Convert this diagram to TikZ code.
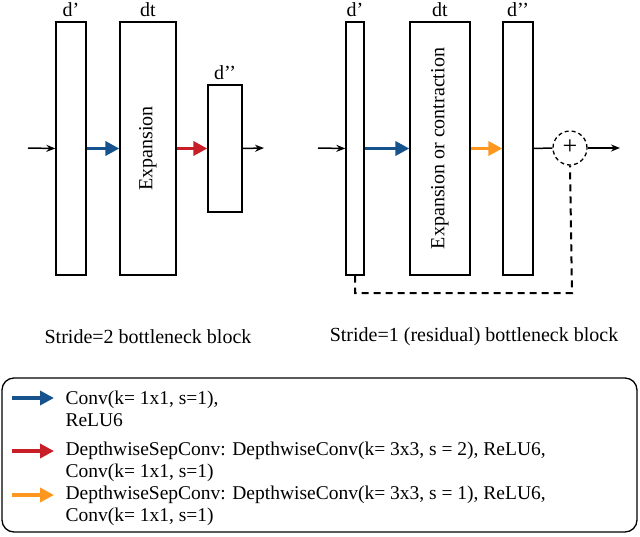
\documentclass[tikz,border=0pt]{standalone}
\usepackage{fontspec}
\setmainfont{Liberation Serif}
\usetikzlibrary{arrows.meta}
\definecolor{cblue}{RGB}{22,82,140}
\definecolor{cred}{RGB}{200,30,40}
\definecolor{corange}{RGB}{255,150,30}
\begin{document}
\begin{tikzpicture}[x=1pt,y=-1pt,
  box/.style={draw,line width=1.3pt,inner sep=0pt},
  lbl/.style={font=\fontsize{20}{22}\selectfont},
  ar/.style={-{Stealth[length=9pt,width=7pt]},line width=1.5pt},
  car/.style={-{Triangle[length=14pt,width=14pt]},line width=3.5pt},
  txt/.style={font=\fontsize{19.5}{22}\selectfont,align=left,anchor=west}]
\useasboundingbox (0,0) rectangle (640,536);
% left
\node[box,minimum width=30pt,minimum height=253pt] (a1) at (71,148.5) {};
\node[box,minimum width=56pt,minimum height=253pt] (a2) at (148,148.5) {};
\node[rotate=90,lbl] at (a2) {Expansion};
\node[box,minimum width=34pt,minimum height=127pt] (a3) at (225,148.5) {};
\node[lbl] at (71,10) {d’};
\node[lbl] at (148,10) {dt};
\node[lbl] at (225,73) {d’’};
\coordinate (ain) at (28,148); \coordinate (aout) at (264,148);
\draw[ar] (ain) -- (a1.west);
\draw[car,cblue] (a1.east) -- (a2.west);
\draw[car,cred] (a2.east) -- (a3.west);
\draw[ar] (a3.east) -- (aout);
\node[lbl] at (148,337) {Stride=2 bottleneck block};
% right
\node[box,minimum width=18pt,minimum height=253pt] (b1) at (355,148.5) {};
\node[box,minimum width=60pt,minimum height=253pt] (b2) at (440,148.5) {};
\node[rotate=90,lbl] at (b2) {Expansion or contraction};
\node[box,minimum width=30pt,minimum height=253pt] (b3) at (518,148.5) {};
\node[lbl] at (355,10) {d’};
\node[lbl] at (440,10) {dt};
\node[lbl] at (518,10) {d’’};
\node[draw,circle,dash pattern=on 4pt off 3pt,line width=1.3pt,minimum size=34pt,inner sep=0pt] (p) at (570,148) {};
\node[font=\fontsize{26}{26}\selectfont] at (570,147) {+};
\coordinate (bin) at (318,148); \coordinate (bout) at (620,148);
\draw[ar] (bin) -- (b1.west);
\draw[car,cblue] (b1.east) -- (b2.west);
\draw[car,corange] (b2.east) -- (b3.west);
\draw[line width=1.5pt] (b3.east) -- (p.west);
\draw[ar] (p.east) -- (bout);
\draw[dash pattern=on 7pt off 5pt,line width=2pt] (b1.south) -- (355,293) -- (572,293) -- (p.south);
\node[lbl] at (474,337) {Stride=1 (residual) bottleneck block};
% legend
\node[draw,rounded corners=12pt,line width=1.3pt,minimum width=635pt,minimum height=154pt] (leg) at (319.5,455) {};
\coordinate (l1a) at (12,398); \coordinate (l1b) at (54,398);
\coordinate (l2a) at (12,451); \coordinate (l2b) at (54,451);
\coordinate (l3a) at (12,495); \coordinate (l3b) at (54,495);
\draw[car,cblue] (l1a) -- (l1b);
\draw[car,cred] (l2a) -- (l2b);
\draw[car,corange] (l3a) -- (l3b);
\node[txt] at (62,409) {Conv(k= 1x1, s=1),\\ReLU6};
\node[txt] at (62,462) {DepthwiseSepConv: DepthwiseConv(k= 3x3, s = 2), ReLU6,\\Conv(k= 1x1, s=1)};
\node[txt] at (62,506) {DepthwiseSepConv: DepthwiseConv(k= 3x3, s = 1), ReLU6,\\Conv(k= 1x1, s=1)};
\end{tikzpicture}
\end{document}
